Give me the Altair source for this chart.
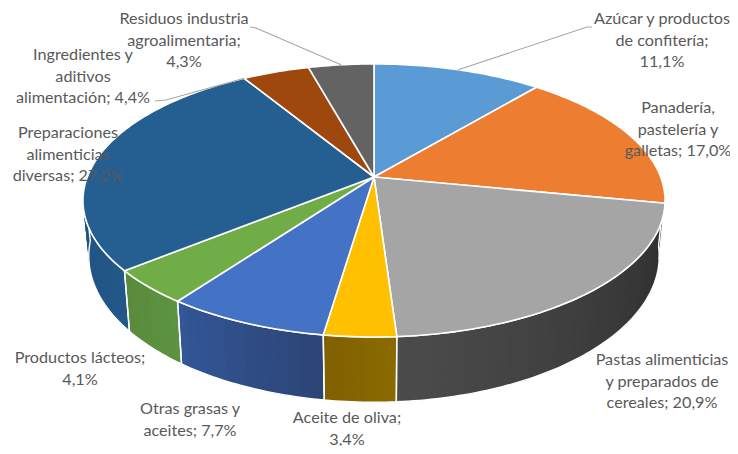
import math
import altair as alt

categories = ["Azúcar y productos de confitería", "Panadería, pastelería y galletas",
              "Pastas alimenticias y preparados de cereales", "Aceite de oliva",
              "Otras grasas y aceites", "Productos lácteos",
              "Preparaciones alimenticias diversas", "Ingredientes y aditivos alimentación",
              "Residuos industria agroalimentaria"]
values = [11.1, 17.0, 20.9, 3.4, 7.7, 4.1, 27.2, 4.4, 4.3]
top_colors = ["#5B9BD5", "#ED7D31", "#A5A5A5", "#FFC000", "#4472C4", "#70AD47", "#255E91", "#9E480E", "#636363"]
side_from = ["#3A6F9F", "#B25A20", "#2E2E2E", "#8A6A00", "#2B4577", "#5C9340", "#235788", "#703208", "#404040"]
side_to = ["#3A6F9F", "#B25A20", "#4C4C4C", "#7F5F00", "#345798", "#598A3B", "#1E4C78", "#703208", "#404040"]
label_lines = [
    "Azúcar y productos\nde confitería;\n11,1%",
    "Panadería,\npastelería y\ngalletas; 17,0%",
    "Pastas alimenticias\ny preparados de\ncereales; 20,9%",
    "Aceite de oliva;\n3,4%",
    "Otras grasas y\naceites; 7,7%",
    "Productos lácteos;\n4,1%",
    "Preparaciones\nalimenticias\ndiversas; 27,2%",
    "Ingredientes y\naditivos\nalimentación; 4,4%",
    "Residuos industria\nagroalimentaria;\n4,3%",
]
label_x = [654, 670, 654, 339, 182, 72, 60, 75, 176]
label_y = [3, 92, 344, 402, 393, 342, 117, 39, 3]

CX, CY, A, B, P, DEPTH, SHRINK = 374, 177, 132.5, 286.7, 0.172, 54, 0.98
total = sum(values)


def top(theta_deg):
    t = math.radians(theta_deg)
    x, y = math.sin(t), math.cos(t)
    d = 1 + P * y
    return CX + B * x / d, CY - A * y / d, DEPTH / d


def bottom(theta_deg):
    X, Y, D = top(theta_deg)
    return CX + (X - CX) * SHRINK, Y + D


def mix(c1, c2, f):
    a = [int(c1[i:i + 2], 16) for i in (1, 3, 5)]
    b = [int(c2[i:i + 2], 16) for i in (1, 3, 5)]
    return "#%02x%02x%02x" % tuple(round(p + (q - p) * f) for p, q in zip(a, b))


def frange(a, b, step=1.0):
    n = max(1, int(math.ceil((b - a) / step)))
    return [a + (b - a) * i / n for i in range(n + 1)]


def feature(kind, coords, fill="none", stroke="none"):
    geom = {"type": kind, "coordinates": [coords] if kind == "Polygon" else coords}
    return {"type": "Feature", "geometry": geom, "properties": {"fill": fill, "stroke": stroke}}


bounds = [0.0]
for v in values:
    bounds.append(bounds[-1] + v / total * 360)

VIS0, VIS1 = 96, 266
side_strips, side_edges, top_slices = [], [], []
for i in range(len(values)):
    s, e = bounds[i], bounds[i + 1]
    a, b = max(s, VIS0), min(e, VIS1)
    if a < b:
        grid = frange(a, b, 2.0)
        for k in range(len(grid) - 1):
            t0, t1 = grid[k], grid[k + 1]
            t1x = b if k == len(grid) - 2 else t1 + 2.0  # overlap the next strip, so no seam shows
            col = mix(side_from[i], side_to[i], (t0 - s) / (e - s))
            sub = frange(t0, min(t1x, b), 0.5)
            quad = [list(top(t)[:2]) for t in sub] + [list(bottom(t)) for t in reversed(sub)]
            side_strips.append(feature("Polygon", quad + [quad[0]], col, "none"))
        grid2 = frange(a, b, 1.0)
        ring = [list(top(t)[:2]) for t in grid2] + [list(bottom(t)) for t in reversed(grid2)]
        side_edges.append(feature("Polygon", ring + [ring[0]], "none", "#ffffff"))
    arc = [list(top(t)[:2]) for t in frange(s, e, 1.0)]
    ring = [[CX, CY]] + arc + [[CX, CY]]
    top_slices.append(feature("Polygon", ring, top_colors[i], "#ffffff"))

mid = lambda i: (bounds[i] + bounds[i + 1]) / 2
leaders = [
    feature("LineString", [[592, 27], [587, 27], list(top(mid(0))[:2])], "none", "#a6a6a6"),
    feature("LineString", [[250, 27], [256, 28], list(top(mid(8))[:2])], "none", "#a6a6a6"),
    feature("LineString", [[155, 101], [166, 100], list(top(bounds[7])[:2])], "none", "#a6a6a6"),
]


def geo(features, width):
    return alt.Chart(alt.Data(values=features)).mark_geoshape(strokeWidth=width, filled=True).encode(
        fill=alt.Fill("properties.fill:N", scale=None),
        stroke=alt.Stroke("properties.stroke:N", scale=None),
    ).project(type="identity", scale=1, translate=[-8, -8])


layers = [geo(side_strips, 0), geo(side_edges, 1.4), geo(top_slices, 1.6), geo(leaders, 1.1)]

for txt, x, y in zip(label_lines, label_x, label_y):
    layers.append(
        alt.Chart(alt.Data(values=[{"t": txt}])).mark_text(
            align="center", baseline="top", lineBreak="\n", lineHeight=21.5,
            font="Lato", fontSize=16.2, color="#595959",
        ).encode(text="t:N", x=alt.value(x), y=alt.value(y))
    )

chart = alt.layer(*layers).properties(width=722, height=438, padding=0, autosize="none", background="white").configure_view(stroke=None)
chart.save("out.html", embed_options={"renderer": "svg", "actions": False})
